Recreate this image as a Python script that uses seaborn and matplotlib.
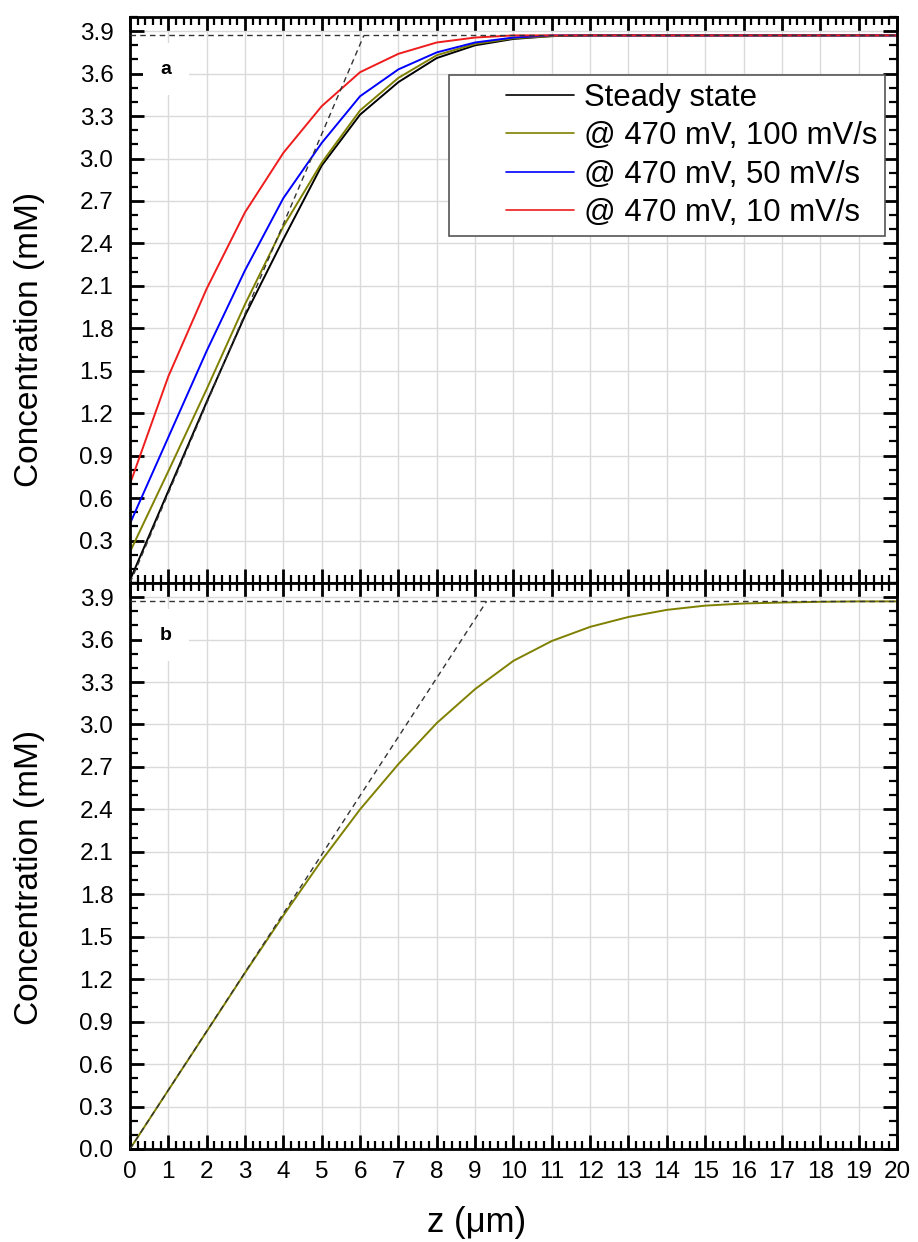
import numpy as np
import pandas as pd
import matplotlib
matplotlib.use("Agg")
import matplotlib.pyplot as plt
from matplotlib.ticker import MultipleLocator
import seaborn as sns

# ---------------------------------------------------------------
# data
# ---------------------------------------------------------------
z_top = [0, 1, 2, 3, 4, 5, 6, 7, 8, 9, 10, 11, 12, 14, 16, 18, 20]
c_steady = [0.02, 0.65, 1.28, 1.89, 2.43, 2.95, 3.31, 3.54, 3.71, 3.80, 3.845, 3.865, 3.87, 3.87, 3.87, 3.87, 3.87]
c_100 = [0.22, 0.79, 1.37, 1.97, 2.52, 2.97, 3.34, 3.57, 3.73, 3.81, 3.85, 3.865, 3.87, 3.87, 3.87, 3.87, 3.87]
c_50 = [0.42, 1.03, 1.64, 2.21, 2.72, 3.11, 3.44, 3.63, 3.75, 3.82, 3.855, 3.87, 3.87, 3.87, 3.87, 3.87, 3.87]
c_10 = [0.70, 1.46, 2.08, 2.62, 3.04, 3.37, 3.61, 3.74, 3.82, 3.855, 3.87, 3.87, 3.87, 3.87, 3.87, 3.87, 3.87]

z_bot = [0, 1, 2, 3, 4, 5, 6, 7, 8, 9, 10, 11, 12, 13, 14, 15, 16, 17, 18, 19, 20]
c_bot = [0.0, 0.416, 0.83, 1.245, 1.65, 2.04, 2.40, 2.72, 3.01, 3.25, 3.45, 3.59, 3.69, 3.76,
         3.81, 3.84, 3.855, 3.862, 3.867, 3.87, 3.87]

c_sat = 3.87
tangent_top_z = [0, 6.1]
tangent_bot_z = [0, 9.3]
tangent_c = [0, c_sat]

labels = ['Steady state', '@ 470 mV, 100 mV/s', '@ 470 mV, 50 mV/s', '@ 470 mV, 10 mV/s']
colors = ['black', '#808000', '#0000ff', '#ee1c1c']

y_ticks = [0.0, 0.3, 0.6, 0.9, 1.2, 1.5, 1.8, 2.1, 2.4, 2.7, 3.0, 3.3, 3.6, 3.9]
x_ticks = list(range(0, 21))

# ---------------------------------------------------------------
# style
# ---------------------------------------------------------------
sns.set_theme(style='ticks')
plt.rcParams['font.family'] = ['Liberation Sans', 'DejaVu Sans']
plt.rcParams['text.color'] = 'black'
plt.rcParams['axes.labelcolor'] = 'black'

fig, (ax1, ax2) = plt.subplots(2, 1, figsize=(9.18, 12.42), dpi=100, sharex=True)
fig.subplots_adjust(left=0.1416, right=0.977, top=0.9863, bottom=0.0749, hspace=0)

top_df = pd.DataFrame({'z': z_top * 4,
                       'c': c_steady + c_100 + c_50 + c_10,
                       'series': sum([[lab] * len(z_top) for lab in labels], [])})

sns.lineplot(data=top_df, x='z', y='c', hue='series', hue_order=labels,
             palette=dict(zip(labels, colors)), linewidth=1.4, ax=ax1)
sns.lineplot(x=z_bot, y=c_bot, color='#808000', linewidth=1.4, ax=ax2)

for ax, tz in [(ax1, tangent_top_z), (ax2, tangent_bot_z)]:
    ax.axhline(c_sat, color='#333333', lw=1.0, ls=(0, (4, 3)), zorder=3)
    sns.lineplot(x=tz, y=tangent_c, color='#333333', lw=1.0, ax=ax, zorder=3)
    ax.lines[-1].set_dashes((4, 3))

    ax.set_xlim(0, 20)
    ax.set_ylim(0, 4.0)
    ax.xaxis.set_major_locator(MultipleLocator(1))
    ax.xaxis.set_minor_locator(MultipleLocator(0.2))
    ax.yaxis.set_minor_locator(MultipleLocator(0.1))
    ax.set_xticks(x_ticks)
    ax.set_xticklabels([str(t) for t in x_ticks])
    ax.grid(True, which='major', color='#dadada', lw=1.0)
    ax.set_axisbelow(True)
    ax.tick_params(which='both', direction='in', top=True, right=True, colors='black')
    ax.tick_params(which='major', length=10, width=2, labelsize=17.5)
    ax.tick_params(which='minor', length=6, width=1.6)
    ax.tick_params(axis='y', pad=12)
    ax.tick_params(axis='x', pad=9)
    for sp in ax.spines.values():
        sp.set_linewidth(2)
        sp.set_color('black')
    ax.set_ylabel('Concentration (mM)', fontsize=24)

ax1.set_yticks(y_ticks[1:])
ax1.set_yticklabels([f'{v:.1f}' for v in y_ticks[1:]])
ax2.set_yticks(y_ticks)
ax2.set_yticklabels([f'{v:.1f}' for v in y_ticks])
ax1.tick_params(labelbottom=False)

ax1.set_xlabel('')
ax2.set_xlabel('z (\u03bcm)', fontsize=25)
ax2.xaxis.set_label_coords(0.452, -0.1)
ax1.yaxis.set_label_coords(-0.111, 0.43)
ax2.yaxis.set_label_coords(-0.111, 0.48)

# panel labels
for ax, tag in [(ax1, 'a'), (ax2, 'b')]:
    ax.text(0.93, 3.63, tag, fontsize=14, fontweight='bold', ha='center', va='center',
            bbox=dict(boxstyle='square,pad=0.9', fc='white', ec='none'), zorder=4)

# legend: wide handle slot, the drawn line sits at its right end
fs_leg = 22.4
slot = 3.77
handles = ax1.get_legend_handles_labels()[0][:4]
leg = ax1.legend(handles, labels, loc='upper right', bbox_to_anchor=(0.985, 0.8975),
                 fontsize=fs_leg, frameon=True, fancybox=False, framealpha=1,
                 edgecolor='#555555', handlelength=slot, handletextpad=0.32,
                 borderpad=0.25, labelspacing=0.27, borderaxespad=0)
leg.get_frame().set_linewidth(1.2)
w = slot * fs_leg
for h in leg.get_lines():
    h.set_linewidth(1.2)
    n = len(h.get_ydata())
    h.set_xdata(np.linspace(w - 49, w, n))

fig.savefig('out.png', dpi=100)
